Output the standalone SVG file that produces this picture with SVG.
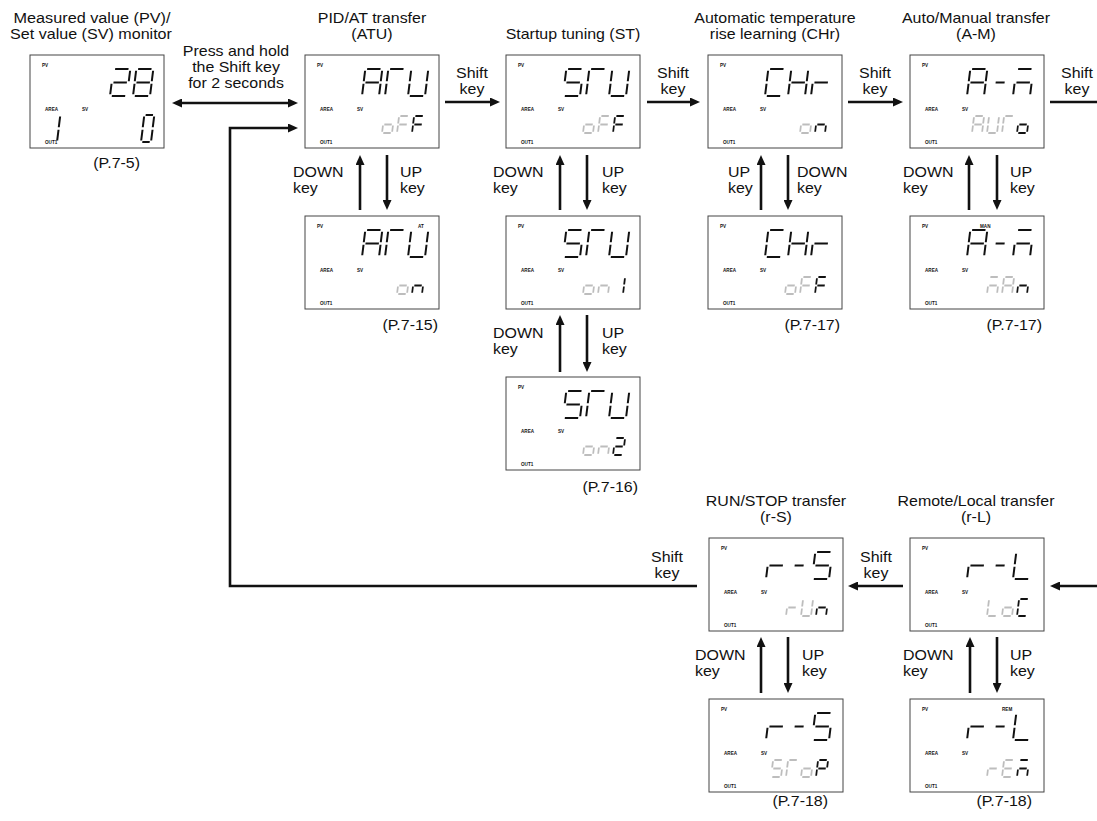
<svg xmlns="http://www.w3.org/2000/svg" width="1097" height="821" viewBox="0 0 1097 821">
<style>
.t{font-family:"Liberation Sans",Arial,sans-serif;font-size:14px;fill:#111}
.s{font-family:"Liberation Sans",Arial,sans-serif;font-size:4.6px;font-weight:bold;fill:#111}
.box{fill:#fff;stroke:#444;stroke-width:1}
.k{stroke:#111;fill:none}
.gr{stroke:#bdbdbd;fill:none}
.c{fill:none;stroke:#111;stroke-width:2.6}
</style>
<defs>
<marker id="ah" viewBox="0 0 10 9" refX="2" refY="4.5" markerWidth="10" markerHeight="9" markerUnits="userSpaceOnUse" orient="auto-start-reverse"><path d="M0,0 L10,4.5 L0,9 z" fill="#111"/></marker>
<!-- upper segments 17x27 -->
<line id="ua" x1="1.8" y1="-27" x2="15.2" y2="-27"/>
<line id="ub" x1="17" y1="-25.2" x2="17" y2="-14.7"/>
<line id="uc" x1="17" y1="-12.3" x2="17" y2="-1.8"/>
<line id="ud" x1="1.8" y1="0" x2="15.2" y2="0"/>
<line id="ue" x1="0" y1="-12.3" x2="0" y2="-1.8"/>
<line id="uf" x1="0" y1="-25.2" x2="0" y2="-14.7"/>
<line id="ug" x1="1.8" y1="-13.5" x2="15.2" y2="-13.5"/>
<line id="uh" x1="4" y1="-13.5" x2="13" y2="-13.5"/>
<!-- lower segments 10x17 -->
<line id="la" x1="1.3" y1="-17" x2="8.7" y2="-17"/>
<line id="lb" x1="10" y1="-15.7" x2="10" y2="-9.4"/>
<line id="lc" x1="10" y1="-7.6" x2="10" y2="-1.3"/>
<line id="ld" x1="1.3" y1="0" x2="8.7" y2="0"/>
<line id="le" x1="0" y1="-7.6" x2="0" y2="-1.3"/>
<line id="lf" x1="0" y1="-15.7" x2="0" y2="-9.4"/>
<line id="lg" x1="1.3" y1="-8.5" x2="8.7" y2="-8.5"/>
<!-- medium segments 10x27 -->
<line id="ma" x1="1.3" y1="-27" x2="8.7" y2="-27"/>
<line id="mb" x1="10" y1="-25.5" x2="10" y2="-14.7"/>
<line id="mc" x1="10" y1="-12.3" x2="10" y2="-1.5"/>
<line id="md" x1="1.3" y1="0" x2="8.7" y2="0"/>
<line id="me" x1="0" y1="-12.3" x2="0" y2="-1.5"/>
<line id="mf" x1="0" y1="-25.5" x2="0" y2="-14.7"/>
<!-- upper characters -->
<g id="U2" stroke-width="2"><use href="#ua"/><use href="#ub"/><use href="#ug"/><use href="#ue"/><use href="#ud"/></g>
<g id="U8" stroke-width="2"><use href="#ua"/><use href="#ub"/><use href="#uc"/><use href="#ud"/><use href="#ue"/><use href="#uf"/><use href="#ug"/></g>
<g id="UA" stroke-width="2"><use href="#ua"/><use href="#ub"/><use href="#uc"/><use href="#ue"/><use href="#uf"/><use href="#ug"/></g>
<g id="UT" stroke-width="2"><use href="#ua"/><use href="#ue"/><use href="#uf"/></g>
<g id="UU" stroke-width="2"><use href="#ub"/><use href="#uc"/><use href="#ud"/><use href="#ue"/><use href="#uf"/></g>
<g id="US" stroke-width="2"><use href="#ua"/><use href="#uf"/><use href="#ug"/><use href="#uc"/><use href="#ud"/></g>
<g id="UC" stroke-width="2"><use href="#ua"/><use href="#uf"/><use href="#ue"/><use href="#ud"/></g>
<g id="UH" stroke-width="2"><use href="#ub"/><use href="#uc"/><use href="#ue"/><use href="#uf"/><use href="#ug"/></g>
<g id="Ur" stroke-width="2"><use href="#ue"/><use href="#ug"/></g>
<g id="Udash" stroke-width="2"><use href="#uh"/></g>
<g id="Um" stroke-width="2"><use href="#ua"/><use href="#uc"/><use href="#ue"/><use href="#ug"/></g>
<g id="UL" stroke-width="2"><use href="#ud"/><use href="#ue"/><use href="#uf"/></g>
<!-- lower characters -->
<g id="Lo" stroke-width="1.8"><use href="#lc"/><use href="#ld"/><use href="#le"/><use href="#lg"/></g>
<g id="LF" stroke-width="1.8"><use href="#la"/><use href="#le"/><use href="#lf"/><use href="#lg"/></g>
<g id="Ln" stroke-width="1.8"><use href="#lc"/><use href="#le"/><use href="#lg"/></g>
<g id="L1" stroke-width="1.8"><use href="#lb"/><use href="#lc"/></g>
<g id="L2" stroke-width="1.8"><use href="#la"/><use href="#lb"/><use href="#lg"/><use href="#le"/><use href="#ld"/></g>
<g id="LA" stroke-width="1.8"><use href="#la"/><use href="#lb"/><use href="#lc"/><use href="#le"/><use href="#lf"/><use href="#lg"/></g>
<g id="LU" stroke-width="1.8"><use href="#lb"/><use href="#lc"/><use href="#ld"/><use href="#le"/><use href="#lf"/></g>
<g id="LT" stroke-width="1.8"><use href="#la"/><use href="#le"/><use href="#lf"/></g>
<g id="Lm" stroke-width="1.8"><use href="#la"/><use href="#lc"/><use href="#le"/><use href="#lg"/></g>
<g id="Lr" stroke-width="1.8"><use href="#le"/><use href="#lg"/></g>
<g id="LS" stroke-width="1.8"><use href="#la"/><use href="#lf"/><use href="#lg"/><use href="#lc"/><use href="#ld"/></g>
<g id="LP" stroke-width="1.8"><use href="#la"/><use href="#lb"/><use href="#le"/><use href="#lf"/><use href="#lg"/></g>
<g id="LL" stroke-width="1.8"><use href="#ld"/><use href="#le"/><use href="#lf"/></g>
<g id="LC" stroke-width="1.8"><use href="#la"/><use href="#lf"/><use href="#le"/><use href="#ld"/></g>
<g id="LE" stroke-width="1.8"><use href="#la"/><use href="#ld"/><use href="#le"/><use href="#lf"/><use href="#lg"/></g>
<!-- medium characters -->
<g id="M1" stroke-width="2"><use href="#mb"/><use href="#mc"/></g>
<g id="M0" stroke-width="2"><use href="#ma"/><use href="#mb"/><use href="#mc"/><use href="#md"/><use href="#me"/><use href="#mf"/></g>
<!-- LCD frame with fixed annunciator labels -->
<g id="lcd">
<rect class="box" x="0" y="0" width="134" height="93"/>
<text class="s" x="12" y="12">PV</text>
<text class="s" x="15" y="56">AREA</text>
<text class="s" x="52" y="56">SV</text>
<text class="s" x="15" y="88.5">OUT1</text>
</g>
</defs>

<!-- titles -->
<g id="titles">
<text class="t" text-anchor="middle" transform="translate(92,23) scale(1.16,1)">Measured value (PV)/</text>
<text class="t" text-anchor="middle" transform="translate(91,39) scale(1.15,1)">Set value (SV) monitor</text>
<text class="t" text-anchor="middle" transform="translate(372,23) scale(1.14,1)">PID/AT transfer</text>
<text class="t" text-anchor="middle" transform="translate(372,39) scale(1.14,1)">(ATU)</text>
<text class="t" text-anchor="middle" transform="translate(573,39) scale(1.14,1)">Startup tuning (ST)</text>
<text class="t" text-anchor="middle" transform="translate(775,23) scale(1.14,1)">Automatic temperature</text>
<text class="t" text-anchor="middle" transform="translate(775,39) scale(1.14,1)">rise learning (CHr)</text>
<text class="t" text-anchor="middle" transform="translate(976,23) scale(1.14,1)">Auto/Manual transfer</text>
<text class="t" text-anchor="middle" transform="translate(976,39) scale(1.14,1)">(A-M)</text>
<text class="t" text-anchor="middle" transform="translate(776,506) scale(1.14,1)">RUN/STOP transfer</text>
<text class="t" text-anchor="middle" transform="translate(776,522) scale(1.14,1)">(r-S)</text>
<text class="t" text-anchor="middle" transform="translate(976,506) scale(1.14,1)">Remote/Local transfer</text>
<text class="t" text-anchor="middle" transform="translate(976,522) scale(1.14,1)">(r-L)</text>
</g>

<!-- nodes -->
<g id="node-pvsv">
<use href="#lcd" x="30" y="55"/>
<use href="#U2" class="k" transform="translate(110,96) skewX(-7)"/>
<use href="#U8" class="k" transform="translate(133,96) skewX(-7)"/>
<use href="#M1" class="k" transform="translate(47,142) skewX(-7)"/>
<use href="#M0" class="k" transform="translate(141,142) skewX(-7)"/>
<text class="t" text-anchor="end" transform="translate(140,168) scale(1.14,1)">(P.7-5)</text>
</g>

<g id="node-atu-off">
<use href="#lcd" x="305" y="55"/>
<use href="#UA" class="k" transform="translate(362,96) skewX(-7)"/>
<use href="#UT" class="k" transform="translate(385,96) skewX(-7)"/>
<use href="#UU" class="k" transform="translate(408,96) skewX(-7)"/>
<use href="#Lo" class="gr" transform="translate(382,133) skewX(-7)"/>
<use href="#LF" class="gr" transform="translate(397,133) skewX(-7)"/>
<use href="#LF" class="k" transform="translate(412,133) skewX(-7)"/>
</g>
<g id="node-atu-on">
<use href="#lcd" x="305" y="216"/>
<text class="s" x="418" y="228">AT</text>
<use href="#UA" class="k" transform="translate(362,257) skewX(-7)"/>
<use href="#UT" class="k" transform="translate(385,257) skewX(-7)"/>
<use href="#UU" class="k" transform="translate(408,257) skewX(-7)"/>
<use href="#Lo" class="gr" transform="translate(397,294) skewX(-7)"/>
<use href="#Ln" class="k" transform="translate(412,294) skewX(-7)"/>
<text class="t" text-anchor="end" transform="translate(438,330) scale(1.14,1)">(P.7-15)</text>
</g>

<g id="node-st-off">
<use href="#lcd" x="506" y="55"/>
<use href="#US" class="k" transform="translate(563,96) skewX(-7)"/>
<use href="#UT" class="k" transform="translate(586,96) skewX(-7)"/>
<use href="#UU" class="k" transform="translate(609,96) skewX(-7)"/>
<use href="#Lo" class="gr" transform="translate(583,133) skewX(-7)"/>
<use href="#LF" class="gr" transform="translate(598,133) skewX(-7)"/>
<use href="#LF" class="k" transform="translate(613,133) skewX(-7)"/>
</g>
<g id="node-st-on1">
<use href="#lcd" x="506" y="216"/>
<use href="#US" class="k" transform="translate(563,257) skewX(-7)"/>
<use href="#UT" class="k" transform="translate(586,257) skewX(-7)"/>
<use href="#UU" class="k" transform="translate(609,257) skewX(-7)"/>
<use href="#Lo" class="gr" transform="translate(583,294) skewX(-7)"/>
<use href="#Ln" class="gr" transform="translate(598,294) skewX(-7)"/>
<use href="#L1" class="k" transform="translate(613,294) skewX(-7)"/>
</g>
<g id="node-st-on2">
<use href="#lcd" x="506" y="377"/>
<use href="#US" class="k" transform="translate(563,418) skewX(-7)"/>
<use href="#UT" class="k" transform="translate(586,418) skewX(-7)"/>
<use href="#UU" class="k" transform="translate(609,418) skewX(-7)"/>
<use href="#Lo" class="gr" transform="translate(583,455) skewX(-7)"/>
<use href="#Ln" class="gr" transform="translate(598,455) skewX(-7)"/>
<use href="#L2" class="k" transform="translate(613,455) skewX(-7)"/>
<text class="t" text-anchor="end" transform="translate(638,492) scale(1.14,1)">(P.7-16)</text>
</g>

<g id="node-chr-on">
<use href="#lcd" x="708" y="55"/>
<use href="#UC" class="k" transform="translate(765,96) skewX(-7)"/>
<use href="#UH" class="k" transform="translate(788,96) skewX(-7)"/>
<use href="#Ur" class="k" transform="translate(811,96) skewX(-7)"/>
<use href="#Lo" class="gr" transform="translate(800,133) skewX(-7)"/>
<use href="#Ln" class="k" transform="translate(815,133) skewX(-7)"/>
</g>
<g id="node-chr-off">
<use href="#lcd" x="708" y="216"/>
<use href="#UC" class="k" transform="translate(765,257) skewX(-7)"/>
<use href="#UH" class="k" transform="translate(788,257) skewX(-7)"/>
<use href="#Ur" class="k" transform="translate(811,257) skewX(-7)"/>
<use href="#Lo" class="gr" transform="translate(785,294) skewX(-7)"/>
<use href="#LF" class="gr" transform="translate(800,294) skewX(-7)"/>
<use href="#LF" class="k" transform="translate(815,294) skewX(-7)"/>
<text class="t" text-anchor="end" transform="translate(840,330) scale(1.14,1)">(P.7-17)</text>
</g>

<g id="node-am-auto">
<use href="#lcd" x="910" y="55"/>
<use href="#UA" class="k" transform="translate(967,96) skewX(-7)"/>
<use href="#Udash" class="k" transform="translate(990,96) skewX(-7)"/>
<use href="#Um" class="k" transform="translate(1013,96) skewX(-7)"/>
<use href="#LA" class="gr" transform="translate(972,133) skewX(-7)"/>
<use href="#LU" class="gr" transform="translate(987,133) skewX(-7)"/>
<use href="#LT" class="gr" transform="translate(1002,133) skewX(-7)"/>
<use href="#Lo" class="k" transform="translate(1017,133) skewX(-7)"/>
</g>
<g id="node-am-man">
<use href="#lcd" x="910" y="216"/>
<text class="s" x="980" y="228">MAN</text>
<use href="#UA" class="k" transform="translate(967,257) skewX(-7)"/>
<use href="#Udash" class="k" transform="translate(990,257) skewX(-7)"/>
<use href="#Um" class="k" transform="translate(1013,257) skewX(-7)"/>
<use href="#Lm" class="gr" transform="translate(987,294) skewX(-7)"/>
<use href="#LA" class="gr" transform="translate(1002,294) skewX(-7)"/>
<use href="#Ln" class="k" transform="translate(1017,294) skewX(-7)"/>
<text class="t" text-anchor="end" transform="translate(1042,330) scale(1.14,1)">(P.7-17)</text>
</g>

<g id="node-rs-run">
<use href="#lcd" x="709" y="538"/>
<use href="#Ur" class="k" transform="translate(766,579) skewX(-7)"/>
<use href="#Udash" class="k" transform="translate(789,579) skewX(-7)"/>
<use href="#US" class="k" transform="translate(812,579) skewX(-7)"/>
<use href="#Lr" class="gr" transform="translate(786,616) skewX(-7)"/>
<use href="#LU" class="gr" transform="translate(801,616) skewX(-7)"/>
<use href="#Ln" class="k" transform="translate(816,616) skewX(-7)"/>
</g>
<g id="node-rs-stop">
<use href="#lcd" x="709" y="699"/>
<use href="#Ur" class="k" transform="translate(766,740) skewX(-7)"/>
<use href="#Udash" class="k" transform="translate(789,740) skewX(-7)"/>
<use href="#US" class="k" transform="translate(812,740) skewX(-7)"/>
<use href="#LS" class="gr" transform="translate(771,777) skewX(-7)"/>
<use href="#LT" class="gr" transform="translate(786,777) skewX(-7)"/>
<use href="#Lo" class="gr" transform="translate(801,777) skewX(-7)"/>
<use href="#LP" class="k" transform="translate(816,777) skewX(-7)"/>
<text class="t" text-anchor="end" transform="translate(828,806) scale(1.14,1)">(P.7-18)</text>
</g>

<g id="node-rl-loc">
<use href="#lcd" x="910" y="538"/>
<use href="#Ur" class="k" transform="translate(967,579) skewX(-7)"/>
<use href="#Udash" class="k" transform="translate(990,579) skewX(-7)"/>
<use href="#UL" class="k" transform="translate(1013,579) skewX(-7)"/>
<use href="#LL" class="gr" transform="translate(987,616) skewX(-7)"/>
<use href="#Lo" class="gr" transform="translate(1002,616) skewX(-7)"/>
<use href="#LC" class="k" transform="translate(1017,616) skewX(-7)"/>
</g>
<g id="node-rl-rem">
<use href="#lcd" x="910" y="699"/>
<text class="s" x="1002" y="711">REM</text>
<use href="#Ur" class="k" transform="translate(967,740) skewX(-7)"/>
<use href="#Udash" class="k" transform="translate(990,740) skewX(-7)"/>
<use href="#UL" class="k" transform="translate(1013,740) skewX(-7)"/>
<use href="#Lr" class="gr" transform="translate(987,777) skewX(-7)"/>
<use href="#LE" class="gr" transform="translate(1002,777) skewX(-7)"/>
<use href="#Lm" class="k" transform="translate(1017,777) skewX(-7)"/>
<text class="t" text-anchor="end" transform="translate(1032,806) scale(1.14,1)">(P.7-18)</text>
</g>

<!-- connectors -->
<g id="connectors">
<line class="c" x1="180" y1="103" x2="290" y2="103" marker-start="url(#ah)" marker-end="url(#ah)"/>
<path class="c" d="M697,586 H230 V128 H290" marker-end="url(#ah)"/>
<line class="c" x1="445" y1="102" x2="492" y2="102" marker-end="url(#ah)"/>
<line class="c" x1="647" y1="102" x2="692" y2="102" marker-end="url(#ah)"/>
<line class="c" x1="848" y1="102" x2="895" y2="102" marker-end="url(#ah)"/>
<line class="c" x1="1050" y1="102" x2="1097" y2="102"/>
<line class="c" x1="1097" y1="586" x2="1058" y2="586" marker-end="url(#ah)"/>
<line class="c" x1="903" y1="586" x2="856" y2="586" marker-end="url(#ah)"/>
<!-- vertical key arrows -->
<line class="c" x1="360" y1="210" x2="360" y2="163" marker-end="url(#ah)"/>
<line class="c" x1="387" y1="155" x2="387" y2="202" marker-end="url(#ah)"/>
<line class="c" x1="560" y1="210" x2="560" y2="163" marker-end="url(#ah)"/>
<line class="c" x1="587" y1="155" x2="587" y2="202" marker-end="url(#ah)"/>
<line class="c" x1="560" y1="372" x2="560" y2="323" marker-end="url(#ah)"/>
<line class="c" x1="587" y1="315" x2="587" y2="364" marker-end="url(#ah)"/>
<line class="c" x1="761" y1="210" x2="761" y2="163" marker-end="url(#ah)"/>
<line class="c" x1="788" y1="155" x2="788" y2="202" marker-end="url(#ah)"/>
<line class="c" x1="969" y1="210" x2="969" y2="163" marker-end="url(#ah)"/>
<line class="c" x1="997" y1="155" x2="997" y2="202" marker-end="url(#ah)"/>
<line class="c" x1="761" y1="693" x2="761" y2="645" marker-end="url(#ah)"/>
<line class="c" x1="788" y1="637" x2="788" y2="685" marker-end="url(#ah)"/>
<line class="c" x1="970" y1="693" x2="970" y2="645" marker-end="url(#ah)"/>
<line class="c" x1="997" y1="637" x2="997" y2="685" marker-end="url(#ah)"/>
</g>

<!-- connector labels -->
<g id="connector-labels">
<text class="t" text-anchor="middle" transform="translate(236,56) scale(1.14,1)">Press and hold</text>
<text class="t" text-anchor="middle" transform="translate(236,72) scale(1.14,1)">the Shift key</text>
<text class="t" text-anchor="middle" transform="translate(236,88) scale(1.14,1)">for 2 seconds</text>

<text class="t" text-anchor="middle" transform="translate(472,78) scale(1.14,1)">Shift</text>
<text class="t" text-anchor="middle" transform="translate(472,94) scale(1.14,1)">key</text>
<text class="t" text-anchor="middle" transform="translate(673,78) scale(1.14,1)">Shift</text>
<text class="t" text-anchor="middle" transform="translate(673,94) scale(1.14,1)">key</text>
<text class="t" text-anchor="middle" transform="translate(875,78) scale(1.14,1)">Shift</text>
<text class="t" text-anchor="middle" transform="translate(875,94) scale(1.14,1)">key</text>
<text class="t" text-anchor="middle" transform="translate(1077,78) scale(1.14,1)">Shift</text>
<text class="t" text-anchor="middle" transform="translate(1077,94) scale(1.14,1)">key</text>
<text class="t" text-anchor="middle" transform="translate(876,562) scale(1.14,1)">Shift</text>
<text class="t" text-anchor="middle" transform="translate(876,578) scale(1.14,1)">key</text>
<text class="t" text-anchor="middle" transform="translate(667,562) scale(1.14,1)">Shift</text>
<text class="t" text-anchor="middle" transform="translate(667,578) scale(1.14,1)">key</text>

<text class="t" transform="translate(293,177) scale(1.14,1)">DOWN</text>
<text class="t" transform="translate(293,193) scale(1.14,1)">key</text>
<text class="t" transform="translate(400,177) scale(1.14,1)">UP</text>
<text class="t" transform="translate(400,193) scale(1.14,1)">key</text>

<text class="t" transform="translate(493,177) scale(1.14,1)">DOWN</text>
<text class="t" transform="translate(493,193) scale(1.14,1)">key</text>
<text class="t" transform="translate(602,177) scale(1.14,1)">UP</text>
<text class="t" transform="translate(602,193) scale(1.14,1)">key</text>

<text class="t" transform="translate(493,338) scale(1.14,1)">DOWN</text>
<text class="t" transform="translate(493,354) scale(1.14,1)">key</text>
<text class="t" transform="translate(602,338) scale(1.14,1)">UP</text>
<text class="t" transform="translate(602,354) scale(1.14,1)">key</text>

<text class="t" transform="translate(728,177) scale(1.14,1)">UP</text>
<text class="t" transform="translate(728,193) scale(1.14,1)">key</text>
<text class="t" transform="translate(797,177) scale(1.14,1)">DOWN</text>
<text class="t" transform="translate(797,193) scale(1.14,1)">key</text>

<text class="t" transform="translate(903,177) scale(1.14,1)">DOWN</text>
<text class="t" transform="translate(903,193) scale(1.14,1)">key</text>
<text class="t" transform="translate(1010,177) scale(1.14,1)">UP</text>
<text class="t" transform="translate(1010,193) scale(1.14,1)">key</text>

<text class="t" transform="translate(695,660) scale(1.14,1)">DOWN</text>
<text class="t" transform="translate(695,676) scale(1.14,1)">key</text>
<text class="t" transform="translate(802,660) scale(1.14,1)">UP</text>
<text class="t" transform="translate(802,676) scale(1.14,1)">key</text>

<text class="t" transform="translate(903,660) scale(1.14,1)">DOWN</text>
<text class="t" transform="translate(903,676) scale(1.14,1)">key</text>
<text class="t" transform="translate(1010,660) scale(1.14,1)">UP</text>
<text class="t" transform="translate(1010,676) scale(1.14,1)">key</text>
</g>
</svg>
